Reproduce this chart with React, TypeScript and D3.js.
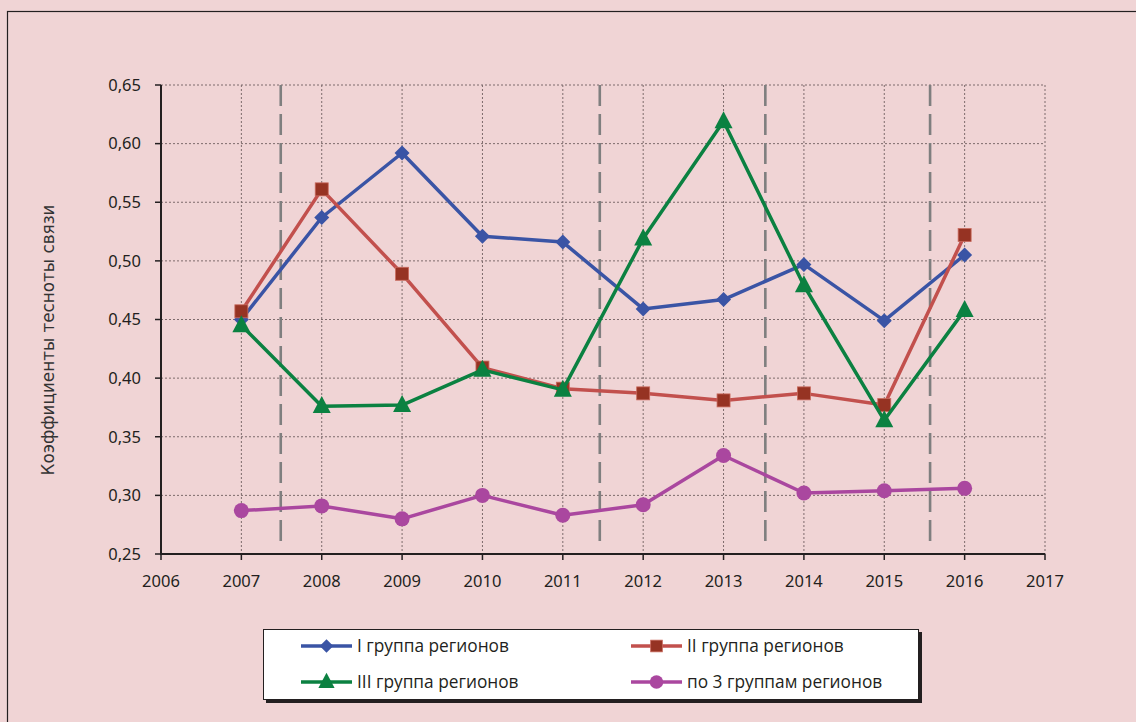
import React from "react";
import * as d3 from "d3";

const years = [2007, 2008, 2009, 2010, 2011, 2012, 2013, 2014, 2015, 2016];
const group1 = [0.450, 0.537, 0.592, 0.521, 0.516, 0.459, 0.467, 0.497, 0.449, 0.505];
const group2 = [0.457, 0.561, 0.489, 0.409, 0.391, 0.387, 0.381, 0.387, 0.377, 0.522];
const group3 = [0.445, 0.376, 0.377, 0.407, 0.390, 0.519, 0.619, 0.479, 0.364, 0.458];
const groupAll = [0.287, 0.291, 0.280, 0.300, 0.283, 0.292, 0.334, 0.302, 0.304, 0.306];
const xTicks = [2006, 2007, 2008, 2009, 2010, 2011, 2012, 2013, 2014, 2015, 2016, 2017];
const yTicks = [0.25, 0.3, 0.35, 0.4, 0.45, 0.5, 0.55, 0.6, 0.65];
const boundaries = [2007.49, 2011.46, 2013.52, 2015.57];
const seriesNames = ["I группа регионов", "II группа регионов", "III группа регионов", "по 3 группам регионов"];
const yTitle = "Коэффициенты тесноты связи";

type Marker = "diamond" | "square" | "triangle" | "circle";
const series: { name: string; values: number[]; line: string; fill: string; marker: Marker }[] = [
  { name: seriesNames[0], values: group1, line: "#3a54a5", fill: "#3a54a5", marker: "diamond" },
  { name: seriesNames[1], values: group2, line: "#c2504d", fill: "#963323", marker: "square" },
  { name: seriesNames[2], values: group3, line: "#0b8141", fill: "#0b8141", marker: "triangle" },
  { name: seriesNames[3], values: groupAll, line: "#aa479f", fill: "#aa479f", marker: "circle" },
];

const W = 1136;
const H = 722;
const x = d3.scaleLinear().domain([2006, 2017]).range([161, 1045]);
const y = d3.scaleLinear().domain([0.25, 0.65]).range([554, 85]);

function MarkerShape({ type, cx, cy, fill, scale = 1 }: { type: Marker; cx: number; cy: number; fill: string; scale?: number }) {
  const s = scale;
  if (type === "diamond") {
    const r = 7.5 * s;
    return <path d={`M${cx},${cy - r}L${cx + r},${cy}L${cx},${cy + r}L${cx - r},${cy}Z`} fill={fill} />;
  }
  if (type === "square") {
    const r = 6.5 * s;
    return <rect x={cx - r} y={cy - r} width={2 * r} height={2 * r} fill={fill} stroke="#c96a5e" strokeWidth={0.8} />;
  }
  if (type === "triangle") {
    const h = 17 * s;
    const w = 18 * s;
    return <path d={`M${cx},${cy - h * 0.6}L${cx + w / 2},${cy + h * 0.4}L${cx - w / 2},${cy + h * 0.4}Z`} fill={fill} />;
  }
  return <circle cx={cx} cy={cy} r={7.5 * s} fill={fill} />;
}

export default function App() {
  const line = d3
    .line<number>()
    .x((_, i) => x(years[i]))
    .y((v) => y(v));
  const tickFont = "'Noto Sans', 'Open Sans', sans-serif";
  const legendFont = "'Open Sans', 'Noto Sans', sans-serif";
  const legendItems = [
    { s: series[0], lx: 301, ly: 646 },
    { s: series[1], lx: 631, ly: 646 },
    { s: series[2], lx: 301, ly: 682 },
    { s: series[3], lx: 631, ly: 682 },
  ];
  return (
    <svg width={W} height={H} style={{ position: "absolute", left: 0, top: 0 }} xmlns="http://www.w3.org/2000/svg">
      <rect x={0} y={0} width={W} height={H} fill="#f0d4d5" />
      <rect x={7.5} y={11.5} width={W + 20} height={H + 20} fill="none" stroke="#231f20" strokeWidth={1.2} />
      {/* grid */}
      {yTicks.slice(1).map((t) => (
        <line key={"gy" + t} x1={x(2006)} x2={x(2017)} y1={y(t)} y2={y(t)} stroke="#7d6b6c" strokeWidth={1} strokeDasharray="2,2" />
      ))}
      {xTicks.slice(1).map((t) => (
        <line key={"gx" + t} x1={x(t)} x2={x(t)} y1={y(0.65)} y2={y(0.25)} stroke="#7d6b6c" strokeWidth={1} strokeDasharray="2,2" />
      ))}
      {/* boundaries */}
      {boundaries.map((b) => (
        <line key={"b" + b} x1={x(b)} x2={x(b)} y1={y(0.65)} y2={548} stroke="#7f7f7f" strokeWidth={2.6} strokeDasharray="21,8" />
      ))}
      {/* axes */}
      <line x1={x(2006)} x2={x(2006)} y1={y(0.65)} y2={y(0.25) + 1} stroke="#231f20" strokeWidth={2} />
      <line x1={x(2006) - 1} x2={x(2017)} y1={y(0.25)} y2={y(0.25)} stroke="#231f20" strokeWidth={2} />
      {yTicks.map((t) => (
        <g key={"yt" + t}>
          <line x1={x(2006) - 6} x2={x(2006)} y1={y(t)} y2={y(t)} stroke="#231f20" strokeWidth={1.5} />
          <text x={x(2006) - 20} y={y(t)} dy="0.35em" textAnchor="end" fontSize={16.5} fontFamily={tickFont} fill="#231f20">
            {d3.format(".2f")(t).replace(".", ",")}
          </text>
        </g>
      ))}
      {xTicks.map((t) => (
        <g key={"xt" + t}>
          <line x1={x(t)} x2={x(t)} y1={y(0.25)} y2={y(0.25) + 6} stroke="#231f20" strokeWidth={1.5} />
          <text x={x(t)} y={587} textAnchor="middle" fontSize={16.5} fontFamily={tickFont} fill="#231f20">
            {t}
          </text>
        </g>
      ))}
      <text
        transform={`translate(54,340) rotate(-90)`}
        textAnchor="middle"
        fontSize={16.8}
        fontFamily="'DejaVu Sans', sans-serif"
        fill="#333"
      >
        {yTitle}
      </text>
      {/* series */}
      {series.map((s) => (
        <g key={s.name}>
          <path d={line(s.values) || ""} fill="none" stroke={s.line} strokeWidth={3.5} strokeLinejoin="round" />
          {s.values.map((v, i) => (
            <MarkerShape key={i} type={s.marker} cx={x(years[i])} cy={y(v)} fill={s.fill} />
          ))}
        </g>
      ))}
      {/* legend */}
      <rect x={266} y={632} width={656} height={71} fill="#231f20" />
      <rect x={263.5} y={629.5} width={655} height={70} fill="#ffffff" stroke="#231f20" strokeWidth={1} />
      {legendItems.map(({ s, lx, ly }) => (
        <g key={"lg" + s.name}>
          <line x1={lx} x2={lx + 51} y1={ly} y2={ly} stroke={s.line} strokeWidth={3.5} />
          <MarkerShape type={s.marker} cx={lx + 25.5} cy={ly} fill={s.fill} scale={0.9} />
          <text x={lx + 56} y={ly} dy="0.35em" fontSize={17.3} fontFamily={legendFont} fill="#231f20">
            {s.name}
          </text>
        </g>
      ))}
    </svg>
  );
}
